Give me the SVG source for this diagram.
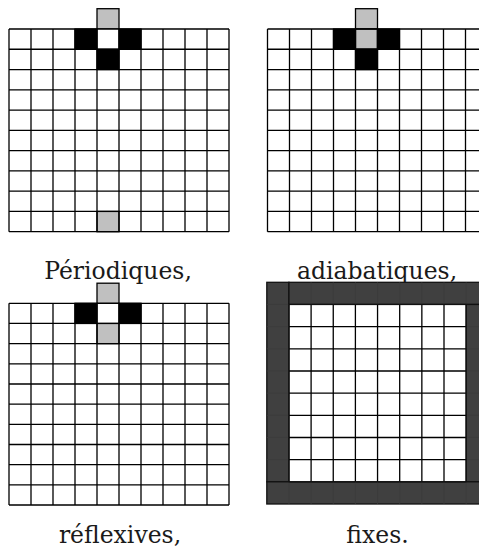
<svg xmlns="http://www.w3.org/2000/svg" width="479" height="552" viewBox="0 0 479 552">
<style>
  .cell { fill: #ffffff; }
  .grid { stroke: #000; stroke-width: 1.3; fill: none; }
  .blk { fill: #000; stroke: #000; stroke-width: 1.3; }
  .gry { fill: #c0c0c0; stroke: #000; stroke-width: 1.3; }
  .drk { fill: #404040; stroke: #111; stroke-width: 1.3; }
  .faint { stroke: #3b3b3b; stroke-width: 0.8; }
  text { font-family: 'DejaVu Serif', 'Liberation Serif', serif; font-size: 23.5px; fill: #1a1a1a; text-anchor: middle; }
</style>

<g id="periodiques">
  <rect x="97" y="8.7" width="22" height="20.3" class="gry"/>
  <rect x="9" y="29" width="220" height="202.7" class="cell"/>
  <rect x="75" y="29" width="22" height="20.27" class="blk"/>
  <rect x="119" y="29" width="22" height="20.27" class="blk"/>
  <rect x="97" y="49.27" width="22" height="20.27" class="blk"/>
  <rect x="97" y="211.43" width="22" height="20.27" class="gry"/>
  <path class="grid" d="M9 29 V231.7 M31 29 V231.7 M53 29 V231.7 M75 29 V231.7 M97 29 V231.7 M119 29 V231.7 M141 29 V231.7 M163 29 V231.7 M185 29 V231.7 M207 29 V231.7 M229 29 V231.7
    M9 29 H229 M9 49.27 H229 M9 69.54 H229 M9 89.81 H229 M9 110.08 H229 M9 130.35 H229 M9 150.62 H229 M9 170.89 H229 M9 191.16 H229 M9 211.43 H229 M9 231.7 H229"/>
  <text x="118" y="278.5">Périodiques,</text>
</g>

<g id="adiabatiques">
  <rect x="355.5" y="8.7" width="22" height="20.3" class="gry"/>
  <rect x="267.5" y="29" width="220" height="202.7" class="cell"/>
  <rect x="333.5" y="29" width="22" height="20.27" class="blk"/>
  <rect x="355.5" y="29" width="22" height="20.27" class="gry"/>
  <rect x="377.5" y="29" width="22" height="20.27" class="blk"/>
  <rect x="355.5" y="49.27" width="22" height="20.27" class="blk"/>
  <path class="grid" d="M267.5 29 V231.7 M289.5 29 V231.7 M311.5 29 V231.7 M333.5 29 V231.7 M355.5 29 V231.7 M377.5 29 V231.7 M399.5 29 V231.7 M421.5 29 V231.7 M443.5 29 V231.7 M465.5 29 V231.7 M487.5 29 V231.7
    M267.5 29 H487.5 M267.5 49.27 H487.5 M267.5 69.54 H487.5 M267.5 89.81 H487.5 M267.5 110.08 H487.5 M267.5 130.35 H487.5 M267.5 150.62 H487.5 M267.5 170.89 H487.5 M267.5 191.16 H487.5 M267.5 211.43 H487.5 M267.5 231.7 H487.5"/>
  <text x="377" y="278.5">adiabatiques,</text>
</g>

<g id="reflexives">
  <rect x="97" y="283.2" width="22" height="20.1" class="gry"/>
  <rect x="9" y="303.3" width="220" height="201.7" class="cell"/>
  <rect x="75" y="303.3" width="22" height="20.17" class="blk"/>
  <rect x="119" y="303.3" width="22" height="20.17" class="blk"/>
  <rect x="97" y="323.47" width="22" height="20.17" class="gry"/>
  <path class="grid" d="M9 303.3 V505 M31 303.3 V505 M53 303.3 V505 M75 303.3 V505 M97 303.3 V505 M119 303.3 V505 M141 303.3 V505 M163 303.3 V505 M185 303.3 V505 M207 303.3 V505 M229 303.3 V505
    M9 303.3 H229 M9 323.47 H229 M9 343.64 H229 M9 363.81 H229 M9 383.98 H229 M9 404.15 H229 M9 424.32 H229 M9 444.49 H229 M9 464.66 H229 M9 484.83 H229 M9 505 H229"/>
  <text x="120" y="542.7">réflexives,</text>
</g>

<g id="fixes">
  <rect x="266.8" y="282.3" width="221.5" height="221.7" class="cell"/>
  <rect x="266.8" y="282.3" width="22.15" height="199.5" class="drk"/>
  <rect x="288.95" y="282.3" width="199.35" height="22.17" class="drk"/>
  <rect x="466.15" y="304.47" width="22.15" height="177.33" class="drk"/>
  <rect x="266.8" y="481.8" width="221.5" height="22.2" class="drk"/>
  <path class="faint" d="M266.8 304.47 H288.95 M266.8 326.64 H288.95 M266.8 348.81 H288.95 M266.8 370.98 H288.95 M266.8 393.15 H288.95 M266.8 415.32 H288.95 M266.8 437.49 H288.95 M266.8 459.66 H288.95
    M466.15 326.64 H488.3 M466.15 348.81 H488.3 M466.15 370.98 H488.3 M466.15 393.15 H488.3 M466.15 415.32 H488.3 M466.15 437.49 H488.3 M466.15 459.66 H488.3
    M311.1 282.3 V304.47 M333.25 282.3 V304.47 M355.4 282.3 V304.47 M377.55 282.3 V304.47 M399.7 282.3 V304.47 M421.85 282.3 V304.47 M444 282.3 V304.47 M466.15 282.3 V304.47
    M288.95 481.8 V504 M311.1 481.8 V504 M333.25 481.8 V504 M355.4 481.8 V504 M377.55 481.8 V504 M399.7 481.8 V504 M421.85 481.8 V504 M444 481.8 V504 M466.15 481.8 V504"/>
  <path class="grid" d="M311.1 304.47 V481.8 M333.25 304.47 V481.8 M355.4 304.47 V481.8 M377.55 304.47 V481.8 M399.7 304.47 V481.8 M421.85 304.47 V481.8 M444 304.47 V481.8
    M288.95 326.64 H466.15 M288.95 348.81 H466.15 M288.95 370.98 H466.15 M288.95 393.15 H466.15 M288.95 415.32 H466.15 M288.95 437.49 H466.15 M288.95 459.66 H466.15"/>
  <path d="M288.95 304.47 H466.15 V481.8 H288.95 Z" fill="none" stroke="#111" stroke-width="1.3"/>
  <text x="377.5" y="542.7">fixes.</text>
</g>
</svg>
